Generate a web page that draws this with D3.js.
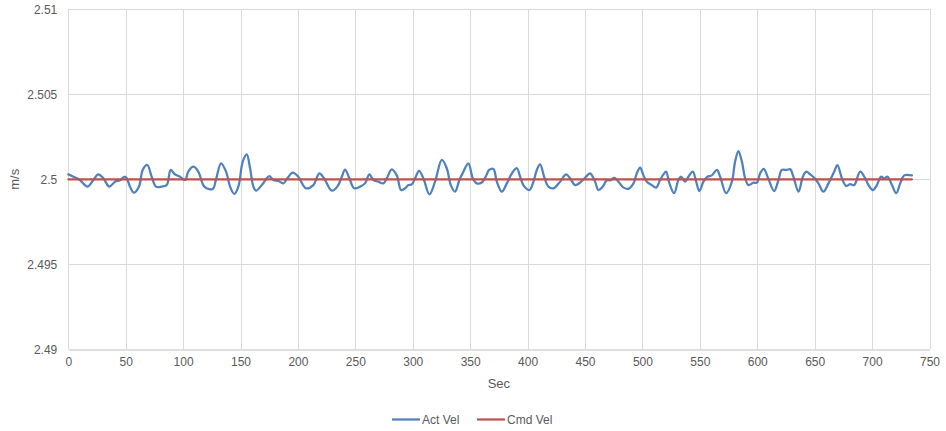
<!DOCTYPE html>
<html>
<head>
<meta charset="utf-8">
<script src="https://cdnjs.cloudflare.com/ajax/libs/d3/7.8.5/d3.min.js"></script>
<style>
  html, body { margin: 0; padding: 0; background: #fff; }
  svg { display: block; font-family: "Liberation Sans", Arial, sans-serif; }
</style>
</head>
<body>
<svg id="chart" width="946" height="431"></svg>
<script>
// ---- data ----
const seconds = [0,4.4,10,16.6,21.8,26.1,30.5,35.7,40.7,45,48.8,50.9,53.7,57.2,61.6,64.8,68.8,72.6,76.4,81.3,85.7,89.2,92.9,97.3,101.7,104.5,108.9,113.2,117.6,120.5,125.8,128.7,133,137.4,140.9,144.6,148.1,151.9,155.4,158.3,161.2,163.5,168.5,172.8,175.1,178.6,183,187.3,190.8,195.5,200.3,207,213.4,218.6,222.7,229.4,234.3,238.2,241,244.8,248.9,254.1,258.4,262.2,265.7,270,274.4,277.4,281.7,286.1,289.8,293.3,296.2,299.1,302,305.5,309.2,314.5,319.4,325.3,329.6,333.1,336.8,340.6,344.1,348.4,352.3,355.7,360.1,363.5,366.5,370.2,373.2,377.5,381.9,386.3,390.6,393.5,396.3,401.6,405.1,408,410.9,414.4,418.1,422.5,428.3,433.5,437,441.4,445.7,450.9,454.4,458.8,461.7,465.5,469,471.9,475.6,479.1,483.6,487.8,492.2,495.1,498,500.9,503.8,508.2,511.9,515.4,518.3,520.6,523.5,527.6,531.3,533.7,537.2,540,543.9,546.8,549.6,553.1,556.6,560.4,564.8,567.7,572.9,577.9,580.7,583.6,586.6,589.5,592.4,596.7,599.7,602.5,605.7,609.5,614.7,618.5,621.4,625.8,628.7,631.5,635.9,639.7,642.6,646.1,649.8,653.3,657.6,662,667,669.8,673.7,677.4,680.9,684.4,689.6,694,696.9,700.7,704.2,707.7,710.6,713.5,717.3,721,724.5,728,734.7];
const actVel = [2.50029,2.50015,2.49996,2.49957,2.49996,2.50029,2.50006,2.49957,2.49986,2.49994,2.50015,2.50006,2.49957,2.49921,2.49957,2.50055,2.50084,2.50015,2.49957,2.49957,2.49966,2.50055,2.50029,2.50015,2.49996,2.50045,2.50074,2.50045,2.49965,2.49947,2.49943,2.5,2.50094,2.50045,2.49957,2.49914,2.49957,2.50104,2.50147,2.50065,2.49957,2.49933,2.49966,2.50006,2.50019,2.49996,2.4999,2.49976,2.50006,2.50039,2.50015,2.49947,2.49966,2.50035,2.50006,2.49933,2.49957,2.50015,2.50057,2.50006,2.49947,2.49957,2.49976,2.50029,2.49996,2.49986,2.49976,2.50006,2.50059,2.50023,2.49937,2.49947,2.49966,2.4997,2.50006,2.5005,2.50006,2.49912,2.49986,2.50114,2.50065,2.49966,2.49927,2.49996,2.50045,2.50094,2.50006,2.49976,2.49981,2.50015,2.50055,2.50061,2.49986,2.49927,2.49976,2.50035,2.50065,2.50015,2.49966,2.49937,2.49986,2.50055,2.50088,2.50015,2.49957,2.49947,2.49986,2.50029,2.50006,2.49966,2.4998,2.50015,2.50035,2.49986,2.49937,2.49957,2.49994,2.49994,2.50008,2.49986,2.49951,2.49944,2.49976,2.50035,2.50069,2.50023,2.49986,2.49966,2.49951,2.49996,2.50029,2.50045,2.49976,2.49918,2.49996,2.50015,2.49986,2.50015,2.50045,2.49986,2.49931,2.49986,2.50015,2.50023,2.50055,2.50015,2.49918,2.49986,2.50104,2.50166,2.50104,2.50006,2.49966,2.4998,2.4998,2.50035,2.50061,2.50006,2.49931,2.49996,2.50055,2.50055,2.50059,2.50015,2.49927,2.50015,2.50045,2.50029,2.50008,2.49976,2.49927,2.49976,2.50045,2.50084,2.50006,2.49961,2.49971,2.49966,2.50045,2.50006,2.49966,2.49937,2.49966,2.50015,2.50006,2.50015,2.49966,2.49918,2.49976,2.50023,2.50023];
const cmdSeconds = [0, 734.7];
const cmdVel = [2.5, 2.5];
const yTicks = [2.49, 2.495, 2.5, 2.505, 2.51];
const yTickLabels = ["2.49", "2.495", "2.5", "2.505", "2.51"];
const xTicks = [0,50,100,150,200,250,300,350,400,450,500,550,600,650,700,750];
const seriesNames = ["Act Vel", "Cmd Vel"];
const seriesColors = ["#4f81bd", "#c0504d"];

// ---- layout ----
const svg = d3.select("#chart");
const pLeft = 68.3, pRight = 929.5, pTop = 9.3, pBottom = 349.3;
const x = d3.scaleLinear().domain([0, 750]).range([pLeft, pRight]);
const y = d3.scaleLinear().domain([2.49, 2.51]).range([pBottom, pTop]);
const textColor = "#595959";
const n = Math.min(seconds.length, actVel.length);

// grid lines
svg.append("g").selectAll("line").data(yTicks.slice(1)).join("line")
  .attr("x1", pLeft).attr("x2", pRight)
  .attr("y1", d => Math.round(y(d)) + 0.5).attr("y2", d => Math.round(y(d)) + 0.5)
  .attr("stroke", "#d9d9d9").attr("stroke-width", 1);
svg.append("g").selectAll("line").data(xTicks).join("line")
  .attr("x1", d => Math.round(x(d)) + 0.5).attr("x2", d => Math.round(x(d)) + 0.5)
  .attr("y1", pTop).attr("y2", pBottom)
  .attr("stroke", "#d9d9d9").attr("stroke-width", 1);

// x axis
const xAxis = d3.axisBottom(x).tickValues(xTicks).tickSize(0).tickPadding(8).tickFormat(d3.format("d"));
const gx = svg.append("g").attr("transform", `translate(0,${Math.round(pBottom) + 0.5})`).call(xAxis);
gx.select(".domain").attr("stroke", "#bfbfbf");
gx.selectAll("text").attr("fill", textColor).style("font-size", "12px").style("font-family", "'Liberation Sans', Arial, sans-serif");

// y axis
const yAxis = d3.axisLeft(y).tickValues(yTicks).tickSize(0).tickPadding(11)
  .tickFormat((d, i) => yTickLabels[i]);
const gy = svg.append("g").attr("transform", `translate(${pLeft},0)`).call(yAxis);
gy.select(".domain").remove();
gy.selectAll("text").attr("fill", textColor).style("font-size", "12px").style("font-family", "'Liberation Sans', Arial, sans-serif");

// axis titles
svg.append("text").attr("x", (pLeft + pRight) / 2).attr("y", 388).attr("text-anchor", "middle")
  .attr("fill", textColor).style("font-size", "13px").text("Sec");
svg.append("text").attr("transform", `translate(19,${(pTop + pBottom) / 2}) rotate(-90)`).attr("text-anchor", "middle")
  .attr("fill", textColor).style("font-size", "13px").text("m/s");

// series
const line = d3.line().x(d => x(d[0])).y(d => y(d[1])).curve(d3.curveCatmullRom.alpha(0.5));
const actData = d3.range(n).map(i => [seconds[i], actVel[i]]);
const cmdData = cmdSeconds.map((s, i) => [s, cmdVel[i]]);
svg.append("path").datum(actData).attr("d", line).attr("fill", "none")
  .attr("stroke", seriesColors[0]).attr("stroke-width", 2.25).attr("stroke-linejoin", "round").attr("stroke-linecap", "round");
svg.append("path").datum(cmdData).attr("d", d3.line().x(d => x(d[0])).y(d => y(d[1]))).attr("fill", "none")
  .attr("stroke", seriesColors[1]).attr("stroke-width", 2.25).attr("stroke-linecap", "round");

// legend
const legendItems = [{x: 392, name: seriesNames[0], color: seriesColors[0]}, {x: 477, name: seriesNames[1], color: seriesColors[1]}];
const lg = svg.append("g");
legendItems.forEach(it => {
  lg.append("line").attr("x1", it.x).attr("x2", it.x + 28).attr("y1", 419.5).attr("y2", 419.5)
    .attr("stroke", it.color).attr("stroke-width", 2.25);
  lg.append("text").attr("x", it.x + 30).attr("y", 424).attr("fill", textColor)
    .style("font-size", "12px").text(it.name);
});
</script>
</body>
</html>
